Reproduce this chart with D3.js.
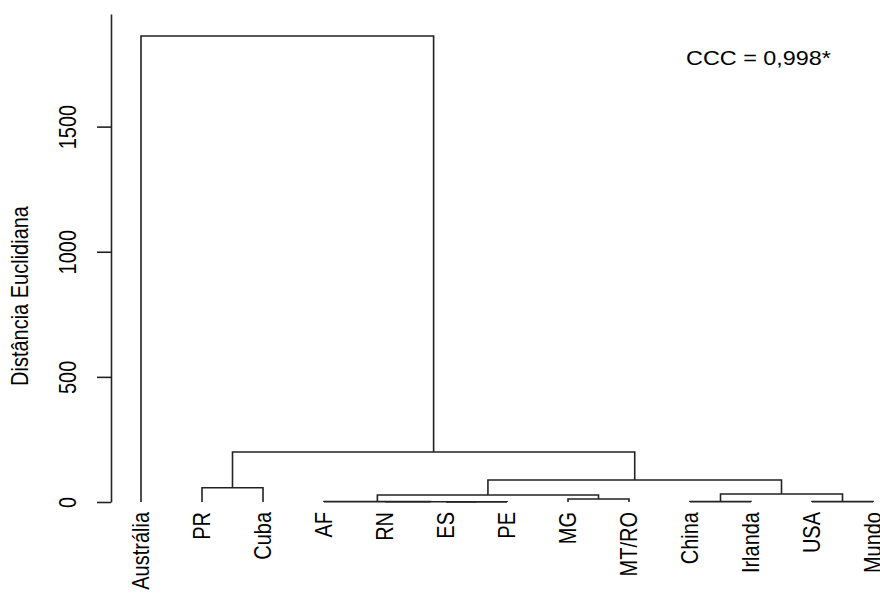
<!DOCTYPE html>
<html>
<head>
<meta charset="utf-8">
<script src="https://cdn.jsdelivr.net/npm/d3@7"></script>
<style>
  body { margin: 0; background: #fff; }
  svg text { font-family: "Liberation Sans", Arial, sans-serif; fill: #000; }
</style>
</head>
<body>
<svg id="chart" width="880" height="594"></svg>
<script>
// leaf labels in plot order
const labels = ["Austrália", "PR", "Cuba", "AF", "RN", "ES", "PE", "MG", "MT/RO", "China", "Irlanda", "USA", "Mundo"];

// merge steps, R hclust style: negative = leaf (1-based), positive = earlier step
const merges = [
    [-6, -7], [-5, 1], [-4, 2], [-10, -11], [-12, -13], [-8, -9],
    [3, 6], [4, 5], [-2, -3], [7, 8], [9, 10], [-1, 11]
];
const heights = [0.3, 1.0, 1.5, 1.5, 1.5, 12, 28, 32, 57, 88, 200, 1862];

const yTicks = [0, 500, 1000, 1500];
const yTitle = "Distância Euclidiana";
const note = "CCC = 0,998*";

const stretch = 1.17;  // the original picture is a little wider than tall

const svg = d3.select("#chart");

const x = d3.scalePoint()
    .domain(labels)
    .range([141, 873]);

const y = d3.scaleLinear()
    .domain([0, 1950])
    .range([502, 14]);

// build the tree from the merge table
const steps = [];
merges.forEach((m, i) => {
    const kids = m.map(k => k < 0 ? { name: labels[-k - 1], h: 0 } : steps[k - 1]);
    steps.push({ h: heights[i], children: kids });
});
const root = d3.hierarchy(steps[steps.length - 1]);

// leaves sit on the point scale, joins at the middle of their two children
root.eachAfter(d => {
    d.px = d.children ? (d.children[0].px + d.children[1].px) / 2 : x(d.data.name);
    d.py = y(d.data.h);
});

const g = svg.append("g");

g.selectAll(".link")
    .data(root.descendants().filter(d => d.children))
    .join("path")
    .attr("class", "link")
    .attr("fill", "none")
    .attr("stroke", "#222")
    .attr("stroke-width", 1.6)
    .attr("d", d => {
        const [a, b] = d.children;
        return `M${a.px},${a.py}V${d.py}H${b.px}V${b.py}`;
    });

// leaf labels
svg.selectAll(".leaf")
    .data(root.leaves())
    .join("text")
    .attr("class", "leaf")
    .attr("font-size", "20px")
    .attr("text-anchor", "end")
    .attr("dominant-baseline", "central")
    .attr("transform", d => `translate(${d.px},512) scale(${stretch},1) rotate(-90)`)
    .text(d => d.data.name);

// y axis
const axis = svg.append("g")
    .attr("transform", "translate(111,0)")
    .call(d3.axisLeft(y).tickValues(yTicks).tickSize(14).tickSizeOuter(0).tickFormat(d3.format("d")));

axis.select(".domain").attr("stroke", "#222").attr("stroke-width", 1.6);
axis.selectAll(".tick line").attr("stroke", "#222").attr("stroke-width", 1.6);
axis.selectAll(".tick text")
    .attr("x", null)
    .attr("dy", null)
    .attr("font-size", "20px")
    .attr("text-anchor", "middle")
    .attr("dominant-baseline", "central")
    .attr("transform", `translate(-43,0) scale(${stretch},1) rotate(-90)`);

svg.append("text")
    .attr("font-size", "20px")
    .attr("text-anchor", "middle")
    .attr("dominant-baseline", "central")
    .attr("transform", `translate(20,296) scale(${stretch},1) rotate(-90)`)
    .text(yTitle);

svg.append("text")
    .attr("font-size", "20px")
    .attr("transform", `translate(686,65) scale(${stretch},1)`)
    .text(note);
</script>
</body>
</html>
